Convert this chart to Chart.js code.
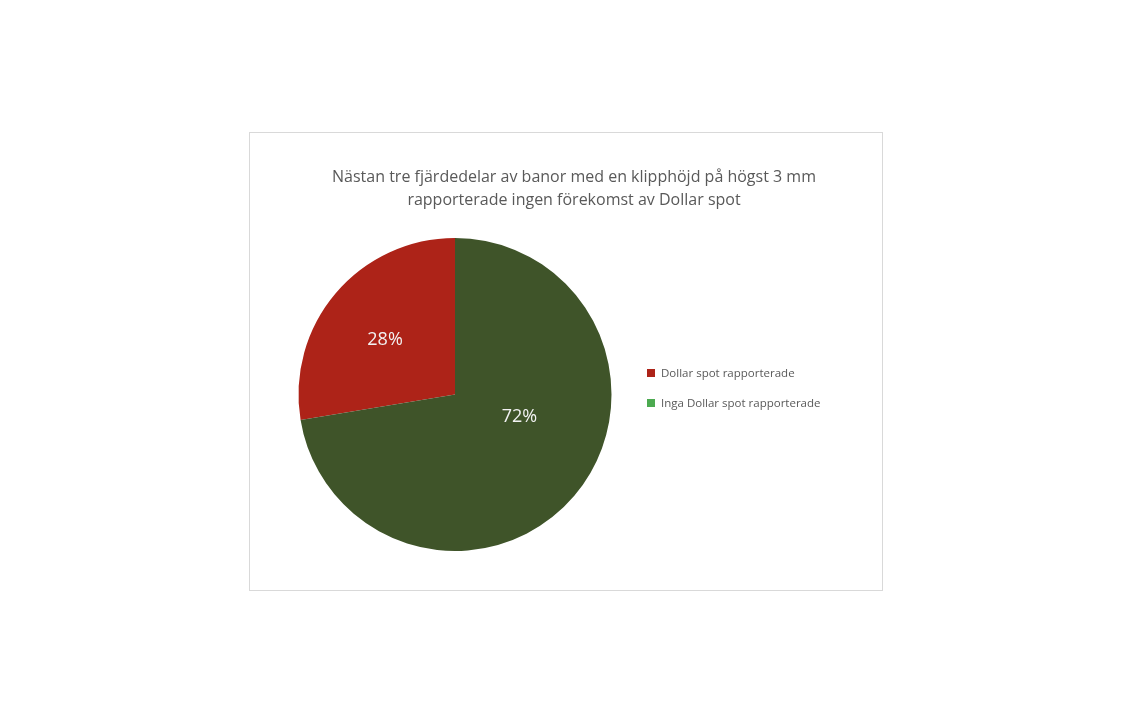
<!DOCTYPE html>
<html>
<head>
<meta charset="utf-8">
<script src="https://cdn.jsdelivr.net/npm/chart.js@4/dist/chart.umd.min.js"></script>
<style>
  html, body { margin: 0; padding: 0; background: #ffffff; }
  body { width: 1132px; height: 724px; position: relative; overflow: hidden; }
  #box { position: absolute; left: 249px; top: 132px; width: 632px; height: 457px; border: 1px solid #d9d9d9; background: #fff; }
  #wrap { position: absolute; left: 0; top: 0; width: 632px; height: 457px; }
</style>
</head>
<body>
<div id="box"><div id="wrap"><canvas id="c"></canvas></div></div>
<script>
const titleLines = ["Nästan tre fjärdedelar av banor med en klipphöjd på högst 3 mm", "rapporterade ingen förekomst av Dollar spot"];
const categories = ["Dollar spot rapporterade", "Inga Dollar spot rapporterade"];
const values = [27.6, 72.4];
const sliceColors = ["#AD2318", "#3F5429"];
const legendColors = ["#AD2318", "#4CAA50"];

const total = values.reduce((a, b) => a + b, 0);
const valueLabels = values.map(v => Math.round(v / total * 100) + "%");
const startRotation = 360 * (total - values[0]) / total;

// label placement within each slice: fraction along arc, fraction of radius
const labelPlacement = [{ t: 0.49, r: 0.578 }, { t: 0.41, r: 0.43 }];

const FONT = "'Open Sans', 'Noto Sans', sans-serif";

const overlay = {
  id: 'overlay',
  afterDatasetsDraw(chart) {
    const ctx = chart.ctx;
    const meta = chart.getDatasetMeta(0);
    ctx.save();
    ctx.fillStyle = '#F2F2F2';
    ctx.font = "18px " + FONT;
    ctx.textAlign = 'center';
    ctx.textBaseline = 'middle';
    meta.data.forEach((arc, i) => {
      const p = arc.getProps(['x', 'y', 'startAngle', 'endAngle', 'outerRadius'], true);
      const lp = labelPlacement[i];
      const a = p.startAngle + (p.endAngle - p.startAngle) * lp.t;
      const r = p.outerRadius * lp.r;
      ctx.fillText(valueLabels[i], p.x + Math.cos(a) * r, p.y + Math.sin(a) * r + 3);
    });
    ctx.restore();
  },
  afterDraw(chart) {
    const ctx = chart.ctx;
    ctx.save();
    // title
    ctx.fillStyle = '#595959';
    ctx.font = "16px " + FONT;
    ctx.textAlign = 'center';
    ctx.textBaseline = 'middle';
    titleLines.forEach((t, i) => ctx.fillText(t, 324, 44 + i * 23));
    // legend
    ctx.font = "11.5px " + FONT;
    ctx.textAlign = 'left';
    categories.forEach((c, i) => {
      const y = 240 + i * 30;
      ctx.fillStyle = legendColors[i];
      ctx.fillRect(397, y - 4, 8, 8);
      ctx.fillStyle = '#595959';
      ctx.fillText(c, 411, y + 1);
    });
    ctx.restore();
  }
};

new Chart(document.getElementById('c'), {
  type: 'pie',
  data: {
    labels: categories,
    datasets: [{
      data: values,
      backgroundColor: sliceColors,
      borderWidth: 0
    }]
  },
  options: {
    responsive: true,
    maintainAspectRatio: false,
    animation: false,
    rotation: startRotation,
    layout: { padding: { left: 48, right: 270, top: 105, bottom: 39 } },
    plugins: {
      legend: { display: false },
      title: { display: false },
      tooltip: { enabled: false }
    }
  },
  plugins: [overlay]
});
</script>
</body>
</html>
